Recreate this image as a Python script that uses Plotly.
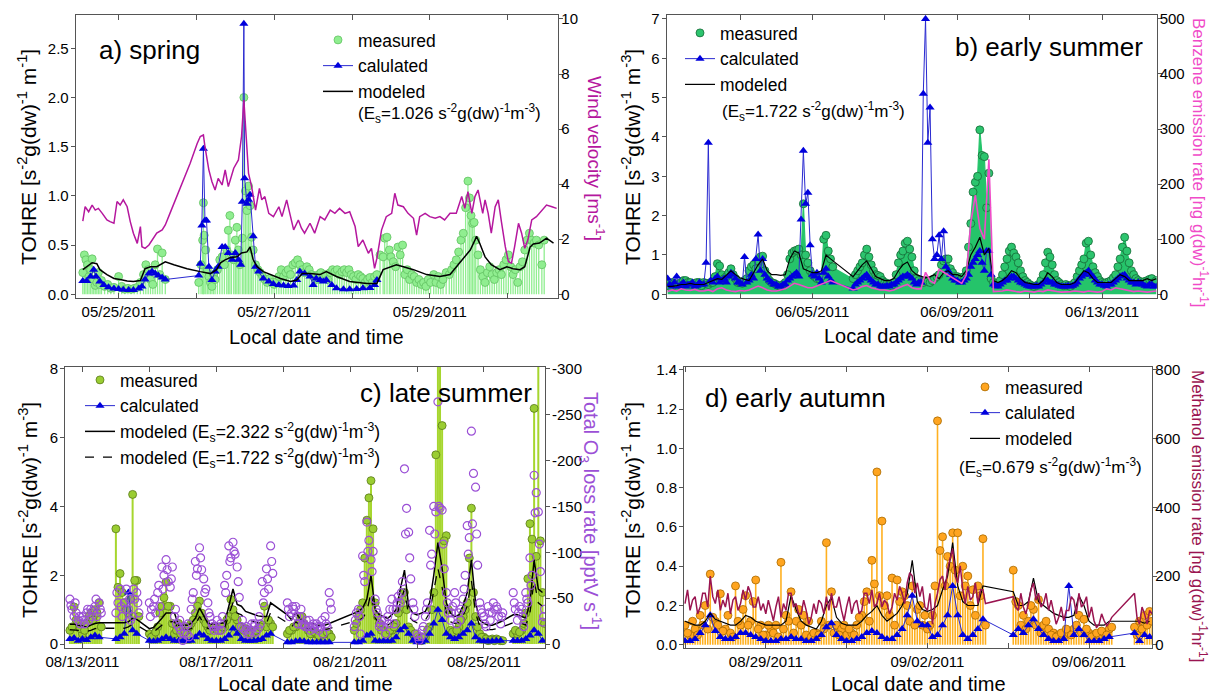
import pandas as pd
import plotly.graph_objects as go

FONT = "Liberation Sans, Arial, Helvetica, sans-serif"
N = None

# ======================= Panel a) spring =======================
A_BASE = "2011-05-25"
a_wind_day = [-0.46, -0.43, -0.385, -0.34, -0.30, -0.26, -0.21, -0.15, -0.11, -0.06, -0.02, 0.02, 0.06, 0.11,
              0.15, 0.19, 0.24, 0.28, 0.30, 0.34, 0.39, 0.43, 0.49, 0.56, 0.60, 0.66, 0.75, 0.84, 0.92, 1.01,
              1.05, 1.09, 1.11, 1.16, 1.20, 1.24, 1.28, 1.33, 1.37, 1.41, 1.48, 1.54, 1.58, 1.61, 1.63, 1.67,
              1.71, 1.76, 1.81, 1.84, 1.88, 1.93, 1.99, 2.06, 2.10, 2.16, 2.21, 2.25, 2.31, 2.35, 2.39, 2.46,
              2.52, 2.59, 2.65, 2.72, 2.78, 2.84, 2.91, 2.97, 3.04, 3.08, 3.14, 3.21, 3.25, 3.29, 3.32, 3.38,
              3.44, 3.51, 3.55, 3.59, 3.66, 3.72, 3.79, 3.83, 3.87, 3.94, 4.00, 4.07, 4.13, 4.19, 4.26, 4.34,
              4.41, 4.45, 4.49, 4.54, 4.58, 4.62, 4.68, 4.71, 4.75, 4.79, 4.84, 4.88, 4.92, 4.97, 5.01, 5.05,
              5.09, 5.14, 5.18, 5.22, 5.26, 5.31, 5.37, 5.44, 5.50, 5.57, 5.63]
a_wind = [2.66, 3.18, 3.00, 3.24, 3.06, 3.12, 2.94, 2.70, 2.64, 2.58, 3.37, 3.24, 3.43, 3.18,
          2.64, 2.22, 1.85, 2.46, 1.73, 1.67, 1.79, 1.97, 2.22, 2.34, 2.52, 2.94, 3.55, 4.15, 4.76, 5.48,
          5.73, 5.79, 5.36, 4.52, 4.09, 3.79, 4.21, 3.97, 4.52, 3.91, 4.58, 4.88, 5.73, 7.06, 6.09, 4.39,
          3.91, 3.06, 3.85, 3.43, 3.55, 2.94, 2.82, 3.18, 2.82, 3.43, 2.82, 2.34, 2.70, 2.40, 2.22, 2.58,
          2.22, 2.82, 2.70, 3.06, 2.94, 3.12, 2.94, 3.00, 2.46, 1.73, 1.97, 1.49, 1.67, 0.94, 1.31, 2.34,
          2.82, 2.94, 3.67, 3.24, 3.18, 2.94, 2.76, 2.15, 2.82, 2.94, 2.82, 2.76, 2.82, 2.70, 2.94, 2.94,
          3.55, 3.12, 3.73, 2.94, 3.55, 3.79, 2.94, 3.43, 2.94, 2.22, 3.18, 3.43, 2.64, 1.73, 1.19, 1.13,
          1.73, 2.58, 2.22, 1.67, 1.97, 2.70, 2.82, 3.06, 3.24, 3.18, 3.12]

a_calc_day = [-0.46, -0.41, -0.36, -0.32, -0.29, -0.24, -0.19, -0.13, -0.06, 0.0, 0.06, 0.13, 0.19, 0.26, 0.30,
              0.34, 0.39, 0.43, 0.47, 0.51, 0.56, 0.60, 1.03, 1.05, 1.07, 1.09, 1.11, 1.13, 1.16, 1.20, 1.24,
              1.28, 1.33, 1.37, 1.41, 1.46, 1.50, 1.54, 1.57, 1.59, 1.61, 1.62, 1.65, 1.67, 1.69, 1.73, 1.76,
              1.80, 1.86, 1.93, 1.99, 2.06, 2.12, 2.18, 2.25, 2.29, 2.33, 2.39, 2.46, 2.50, 2.54, 2.59, 2.63,
              2.67, 2.74, 2.80, 2.89, 2.97, 3.06, 3.14, 3.23, 3.29, 3.32]
a_calc = [0.135, 0.135, 0.18, 0.25, 0.18, 0.13, 0.095, 0.07, 0.058, 0.054, 0.047, 0.044, 0.044, 0.058, 0.078,
          0.15, 0.21, 0.23, 0.21, 0.19, 0.17, 0.15, 0.19, 0.31, 0.70, 1.48, 0.75, 0.75, 0.28, 0.145, 0.23,
          0.28, 0.48, 0.48, 0.42, 0.35, 0.42, 0.35, 0.30, 0.94, 2.75, 1.18, 0.92, 0.96, 1.01, 0.59, 0.28,
          0.23, 0.16, 0.13, 0.105, 0.095, 0.088, 0.085, 0.088, 0.145, 0.23, 0.21, 0.18, 0.095, 0.16, 0.145, 0.13,
          0.145, 0.095, 0.061, 0.051, 0.051, 0.054, 0.061, 0.064, 0.095, 0.145]

a_meas_day = [-0.46, -0.44, -0.42, -0.40, -0.38, -0.36, -0.34, -0.32, -0.30, -0.28, -0.26, -0.24, -0.22, -0.18,
              -0.14, -0.10, -0.06, 0.0, 0.04, 0.08, 0.12, 0.16, 0.20, 0.24, 0.28, 0.32, 0.35, 0.38, 0.41, 0.44,
              0.47, 0.50, 0.53, 0.56, 0.60,
              1.03, 1.06, 1.08, 1.09, 1.10, 1.12, 1.14, 1.16, 1.18, 1.20, 1.22, 1.24, 1.27, 1.30, 1.33, 1.36,
              1.39, 1.41, 1.43, 1.45, 1.48, 1.50, 1.52, 1.54, 1.56, 1.59, 1.61, 1.63, 1.65, 1.67, 1.69, 1.71,
              1.73, 1.76, 1.79, 1.82, 1.85, 1.88, 1.91, 1.94, 1.97, 2.00, 2.03, 2.06, 2.09, 2.12, 2.15, 2.18,
              2.21, 2.24, 2.27, 2.30, 2.33, 2.36, 2.39, 2.42, 2.45, 2.48, 2.51, 2.54, 2.57, 2.60, 2.63, 2.66,
              2.69, 2.72, 2.75, 2.78, 2.81, 2.84, 2.87, 2.90, 2.93, 2.96, 2.99, 3.02, 3.05, 3.08, 3.11, 3.14,
              3.17, 3.20, 3.23, 3.26, 3.29, 3.32, 3.36, 3.40, 3.42, 3.45, 3.48, 3.50, 3.53, 3.56, 3.59, 3.62,
              3.65, 3.68, 3.71, 3.74, 3.77, 3.80, 3.83, 3.86, 3.89, 3.92, 3.95, 3.98, 4.01, 4.05, 4.08, 4.11,
              4.14, 4.17, 4.21, 4.25, 4.28, 4.31, 4.34, 4.37, 4.40, 4.43, 4.46, 4.49, 4.51, 4.53, 4.55, 4.57,
              4.59, 4.62, 4.65, 4.68, 4.71, 4.74, 4.77, 4.80, 4.83, 4.86, 4.89, 4.92, 4.95, 4.98, 5.01, 5.04,
              5.07, 5.10, 5.13, 5.16, 5.19, 5.22, 5.25, 5.28, 5.31, 5.34, 5.37, 5.40, 5.44, 5.47]
a_meas = [0.22, 0.40, 0.35, 0.30, 0.18, 0.25, 0.36, 0.15, 0.09, 0.12, 0.22, 0.10, 0.14, 0.08,
          0.10, 0.06, 0.07, 0.18, 0.08, 0.05, 0.06, 0.05, 0.06, 0.07, 0.12, 0.20, 0.30, 0.25, 0.15, 0.10,
          0.30, 0.46, 0.20, 0.42, 0.15,
          0.12, 0.30, 0.55, 0.93, 0.60, 0.45, 0.25, 0.18, 0.12, 0.08, 0.20, 0.15, 0.25, 0.35, 0.38, 0.30,
          0.45, 0.65, 0.80, 0.40, 0.35, 0.55, 0.68, 0.45, 0.30, 0.57, 2.00, 1.05, 0.85, 1.10, 0.90, 0.58,
          0.45, 0.30, 0.25, 0.22, 0.18, 0.15, 0.12, 0.16, 0.12, 0.10, 0.13, 0.18, 0.25, 0.18, 0.22, 0.25,
          0.20, 0.30, 0.32, 0.35, 0.30, 0.25, 0.22, 0.28, 0.25, 0.20, 0.18, 0.15, 0.20, 0.22, 0.18, 0.20,
          0.15, 0.22, 0.25, 0.23, 0.25, 0.20, 0.23, 0.25, 0.22, 0.25, 0.20, 0.18, 0.15, 0.20, 0.18, 0.16,
          0.12, 0.15, 0.17, 0.12, 0.18, 0.20, 0.40, 0.38, 0.57, 0.58, 0.45, 0.38, 0.33, 0.28, 0.48, 0.40,
          0.50, 0.20, 0.25, 0.15, 0.20, 0.18, 0.12, 0.15, 0.10, 0.12, 0.08, 0.15, 0.12, 0.20, 0.12, 0.18,
          0.10, 0.15, 0.22, 0.20, 0.25, 0.30, 0.35, 0.43, 0.55, 0.62, 0.88, 1.15, 0.98, 0.80, 0.72, 0.73,
          0.55, 0.40, 0.25, 0.18, 0.12, 0.22, 0.28, 0.20, 0.15, 0.22, 0.25, 0.20, 0.30, 0.35, 0.40, 0.28,
          0.20, 0.25, 0.12, 0.28, 0.33, 0.45, 0.55, 0.62, 0.55, 0.52, 0.55, 0.50, 0.30, 0.55]

a_model_day = [-0.46, -0.41, -0.34, -0.28, -0.24, -0.15, -0.06, 0.02, 0.11, 0.19, 0.28, 0.34, 0.41, 0.49, 0.54,
               0.60, 0.71, 0.88, 1.05, 1.18, 1.26, 1.31, 1.37, 1.43, 1.52, 1.58, 1.65, 1.69, 1.73, 1.78, 1.86,
               1.95, 2.08, 2.21, 2.29, 2.36, 2.46, 2.59, 2.67, 2.80, 2.97, 3.19, 3.32, 3.40, 3.49, 3.57, 3.66,
               3.79, 3.96, 4.13, 4.26, 4.39, 4.52, 4.58, 4.60, 4.64, 4.71, 4.79, 4.90, 4.99, 5.07, 5.16, 5.22,
               5.29, 5.33, 5.41, 5.50, 5.59]
a_model = [0.25, 0.28, 0.32, 0.31, 0.25, 0.20, 0.16, 0.15, 0.135, 0.13, 0.14, 0.26, 0.28, 0.28, 0.30,
           0.33, 0.30, 0.26, 0.23, 0.21, 0.25, 0.32, 0.35, 0.37, 0.38, 0.42, 0.43, 0.48, 0.35, 0.28, 0.23,
           0.20, 0.16, 0.13, 0.145, 0.21, 0.21, 0.20, 0.23, 0.18, 0.13, 0.11, 0.11, 0.25, 0.28, 0.30, 0.28,
           0.25, 0.20, 0.18, 0.20, 0.32, 0.45, 0.55, 0.59, 0.52, 0.38, 0.30, 0.25, 0.28, 0.26, 0.25, 0.28,
           0.48, 0.51, 0.52, 0.57, 0.52]

# ======================= Panel b) early summer (3-hourly, plus samples at +1.5 h) =======================
B_START, B_END = "2011-06-01 00:00", "2011-06-14 12:00"
b_meas = [0.25, 0.30, 0.20, 0.30, 0.35, 0.30, 0.28, 0.30,
          0.30, 0.25, 0.30, 0.78, 0.50, 0.45, 0.65, 0.40,
          0.30, 0.35, 0.60, 0.75, 0.85, 0.97, 0.45, 0.30,
          0.25, 0.20, 0.30, 0.90, 1.10, 1.15, 2.30, 0.80,
          0.50, 0.40, 0.45, 1.50, 0.90, N, N, N,
          N, 0.40, 0.60, 0.80, 1.15, 0.75, 0.50, 0.45,
          0.30, 0.25, 0.30, 0.80, 1.10, 1.35, 0.95, 0.40,
          0.30, 0.35, 0.30, 0.40, 0.50, 0.85, 0.90, 0.55,
          0.45, 0.40, 0.60, 1.80, 2.85, 4.18, 3.50, 3.08,
          0.30, 0.25, 0.50, 0.90, 1.20, 0.95, 0.60, 0.35,
          0.25, 0.20, 0.25, 0.50, 1.07, 0.75, 0.35, 0.25,
          0.25, 0.20, 0.30, 0.60, 0.90, 1.35, 0.70, 0.45,
          0.30, 0.30, 0.35, 0.50, 0.90, 1.45, 0.80, 0.50,
          0.35, 0.30, 0.35, 0.40, 0.35]
b_meas_b = [0.20, 0.28, 0.25, 0.35, 0.30, 0.25, 0.30, 0.22,
            0.28, 0.30, 0.45, 0.72, 0.40, 0.55, 0.50, 0.30,
            0.28, 0.40, 0.70, 0.65, 0.95, 0.60, 0.35, 0.28,
            0.22, 0.25, 0.50, 1.05, 1.12, 1.00, 1.00, 0.60,
            0.45, 0.40, 1.40, 1.10, 0.70, N, N, N,
            N, 0.50, 0.70, 1.00, 0.95, 0.60, 0.48, 0.35,
            0.28, 0.22, 0.50, 1.00, 1.30, 1.15, 0.60, 0.35,
            0.30, 0.32, 0.35, 0.45, 0.75, 0.90, 0.65, 0.45,
            0.42, 0.45, 1.20, 2.60, 3.00, 3.53, 2.20, 0.40,
            0.28, 0.35, 0.70, 1.10, 1.05, 0.80, 0.45, 0.30,
            0.22, 0.22, 0.35, 0.80, 0.95, 0.50, 0.30, 0.22,
            0.22, 0.25, 0.45, 0.75, 1.30, 1.00, 0.55, 0.35,
            0.28, 0.32, 0.42, 0.70, 1.20, 1.10, 0.60, 0.40,
            0.32, 0.33, 0.38, 0.30, N]
b_calc = [0.40, 0.20, 0.45, 0.25, 0.20, 0.25, 0.20, 0.30,
          0.25, 3.85, 0.30, 0.45, 0.35, 0.30, 0.55, 0.40,
          0.30, 0.95, 0.35, 0.40, 1.52, 0.90, 0.40, 0.30,
          0.25, 0.20, 0.25, 0.40, 0.50, 0.45, 3.65, 2.58,
          0.50, 0.55, 0.30, 0.65, 0.35, N, N, N,
          N, 0.15, 0.30, 0.40, 0.50, 0.35, 0.25, 0.20,
          0.20, 0.20, 0.25, 0.35, 0.45, 0.50, 0.40, 0.25,
          0.30, 7.00, 4.75, 0.90, 1.50, 1.60, 0.60, 0.40,
          0.35, 0.30, 0.40, 0.70, 0.90, 1.10, 0.60, 1.10,
          0.25, 0.20, 0.30, 0.35, 0.45, 0.40, 0.30, 0.25,
          0.20, 0.20, 0.20, 0.30, 0.35, 0.30, 0.25, 0.20,
          0.20, 0.20, 0.25, 0.40, 0.50, 0.60, 0.45, 0.30,
          0.25, 0.20, 0.25, 0.35, 0.45, 0.50, 0.35, 0.30,
          0.30, 0.25, 0.20, 0.25, 0.20]
b_calc_b = [0.25, 0.30, 0.20, 0.30, 0.25, 0.30, 0.22, 0.25,
            0.80, 0.35, 0.40, 0.30, 0.40, 0.45, 0.50, 0.30,
            0.25, 0.30, 0.50, 0.90, 0.60, 0.50, 0.35, 0.25,
            0.20, 0.25, 0.35, 0.45, 0.55, 1.90, 2.30, 1.25,
            0.45, 0.40, 0.55, 0.45, 0.30, N, N, N,
            N, 0.25, 0.35, 0.45, 0.40, 0.30, 0.25, 0.20,
            0.22, 0.25, 0.30, 0.40, 0.45, 0.45, 0.30, 0.30,
            5.10, 3.85, 1.40, 1.00, 0.90, 0.70, 0.50, 0.35,
            0.30, 0.35, 0.50, 0.80, 1.00, 0.80, 1.10, 0.50,
            0.22, 0.25, 0.35, 0.40, 0.45, 0.35, 0.28, 0.22,
            0.20, 0.22, 0.25, 0.35, 0.30, 0.25, 0.22, 0.20,
            0.22, 0.22, 0.30, 0.45, 0.55, 0.50, 0.35, 0.25,
            0.22, 0.25, 0.30, 0.40, 0.48, 0.40, 0.30, 0.25,
            0.28, 0.22, 0.25, 0.20, N]
b_model = [0.20, 0.20, 0.22, 0.25, 0.25, 0.28, 0.25, 0.25,
           0.25, 0.30, 0.35, 0.40, 0.38, 0.50, 0.60, 0.50,
           0.42, 0.38, 0.35, 0.55, 0.75, 0.90, 0.60, 0.50,
           0.50, 0.48, 0.50, 0.90, 1.10, 1.05, 0.65, 0.60,
           0.55, 0.55, 0.60, 1.00, 0.90, N, N, N,
           N, 0.45, 0.60, 0.75, 0.85, 0.65, 0.45, 0.40,
           0.35, 0.35, 0.40, 0.60, 0.75, 0.82, 0.60, 0.50,
           0.45, 0.42, 0.45, 0.50, 0.40, 0.55, 0.60, 0.50,
           0.50, 0.45, 0.60, 1.00, 1.20, 1.45, 1.00, 1.17,
           0.35, 0.30, 0.35, 0.45, 0.60, 0.55, 0.40, 0.30,
           0.28, 0.25, 0.25, 0.35, 0.55, 0.45, 0.30, 0.25,
           0.25, 0.25, 0.30, 0.45, 0.60, 0.55, 0.40, 0.30,
           0.30, 0.30, 0.30, 0.40, 0.50, 0.45, 0.35, 0.35,
           0.35, 0.35, 0.40, 0.35, 0.40]
b_benzene = [5, 8, 6, 10, 8, 7, 9, 6,
             6, 8, 5, 10, 12, 8, 6, 5,
             7, 6, 8, 12, 15, 12, 8, 6,
             6, 8, 10, 15, 20, 18, 15, 12,
             12, 15, 18, 22, 25, N, N, N,
             N, 8, 10, 14, 16, 12, 10, 8,
             8, 6, 8, 12, 15, 18, 12, 10,
             10, 40, 25, 20, 45, 40, 35, 30,
             25, 20, 35, 130, 180, 120, 100, 245,
             5, 5, 6, 8, 6, 5, 4, 6,
             5, 4, 6, 5, 8, 6, 5, 4,
             4, 5, 6, 5, 4, 6, 5, 4,
             5, 10, 8, 12, 10, 8, 6, 5,
             6, 5, 4, 5, 6]

# ======================= Panel c) late summer (3-hourly) =======================
C_START, C_END = "2011-08-12 12:00", "2011-08-26 18:00"
c_meas = [N, 0.40, 1.08, 0.60,
          0.30, 0.60, 0.90, 1.00, 1.20, N, N, N,
          3.35, 2.05, 1.20, 0.90, 4.35, 1.85, N, N,
          0.30, 0.25, 0.50, 1.10, 1.80, 1.10, 0.30, 0.60,
          0.50, 0.40, 0.60, 0.90, 1.25, 0.70, 0.50, 0.45,
          0.50, 0.40, 0.50, 0.80, 1.00, 0.70, 0.50, 0.45,
          0.40, 0.35, 0.45, 0.55, 0.50, 0.60, N, N,
          N, 0.30, 0.40, 0.50, 0.70, 0.60, 0.40, 0.30,
          0.30, 0.25, 0.30, 0.30, N, N, N, N,
          N, 0.40, 0.80, 1.20, 3.60, 4.75, 1.20, 0.60,
          0.40, 0.30, 0.40, 0.60, 1.00, 1.50, 0.50, 0.30,
          0.20, 0.10, 0.20, 0.50, 1.50, 9.50, 6.35, 3.15,
          0.40, 0.30, 0.50, 0.80, 1.20, 3.95, 0.80, 0.30,
          0.20, 0.10, 0.15, 0.15, 0.10, N, N, 0.30,
          0.30, 0.40, 0.90, 3.50, 6.85, 9.50, 1.50]
c_meas_b = [N, 0.50, 0.70, 0.45,
            0.40, 0.80, 0.70, 0.90, 0.50, N, N, N,
            1.65, 1.50, 1.00, 1.30, 1.85, 0.80, N, N,
            0.20, 0.35, 0.90, 1.35, 1.10, 0.60, 0.40, 0.30,
            0.35, 0.50, 0.70, 1.10, 0.90, 0.60, 0.40, 0.50,
            0.40, 0.50, 0.70, 1.30, 0.80, 0.50, 0.40, 0.35,
            0.30, 0.40, 0.50, 1.10, 0.70, 0.50, N, N,
            N, 0.40, 0.50, 0.60, 0.80, 0.50, 0.30, 0.35,
            0.25, 0.30, 0.35, 0.20, N, N, N, N,
            N, 0.60, 1.00, 2.50, 4.25, 3.35, 0.80, 0.40,
            0.30, 0.40, 0.50, 0.90, 1.30, 1.00, 0.40, 0.30,
            0.15, 0.20, 0.40, 1.00, 5.50, 9.50, 3.00, 1.00,
            0.35, 0.40, 0.70, 1.00, 2.50, 1.50, 0.50, 0.20,
            0.15, 0.12, 0.10, 0.12, 0.10, N, N, 0.40,
            0.35, 0.60, 1.90, 3.05, 2.55, 3.00, 0.60]
c_calc = [N, 0.15, 0.18, 0.10,
          0.15, 0.12, 0.20, 0.25, 0.20, N, N, N,
          0.15, 0.20, 0.30, 1.50, 0.40, 0.30, N, N,
          0.10, 0.08, 0.10, 0.15, 0.20, 0.15, 0.10, 0.10,
          0.10, 0.08, 0.10, 0.20, 0.30, 0.25, 0.15, 0.10,
          0.10, 0.10, 0.15, 0.25, 0.45, 0.30, 0.15, 0.10,
          0.10, 0.10, 0.12, 0.15, 0.25, 0.30, N, N,
          N, 0.05, 0.05, 0.08, 0.10, 0.08, 0.05, 0.05,
          0.05, 0.05, 0.05, 0.05, N, N, N, N,
          N, 0.05, 0.05, 0.10, 0.25, 0.30, 0.10, 0.08,
          0.10, 0.08, 0.10, 0.20, 0.40, 0.50, 0.30, 0.10,
          0.05, 0.05, 0.10, 0.30, 0.60, 1.00, 0.70, 0.30,
          0.20, 0.15, 0.20, 0.30, 0.40, 0.60, 0.20, 0.10,
          0.08, 0.08, 0.08, 0.10, 0.10, N, N, 0.10,
          0.10, 0.10, 0.15, 0.25, 0.40, 0.30, 0.10]
c_model = [N, 0.58, 0.58, 0.55,
           0.52, 0.50, 0.55, 0.60, 0.62, N, N, N,
           0.62, 0.62, 0.62, 0.65, 0.75, 0.72, N, N,
           0.45, 0.48, 0.60, 0.75, 0.90, 0.90, 0.90, 0.55,
           0.55, 0.55, 0.60, 0.75, 1.05, 0.80, 0.60, 0.58,
           0.60, 0.60, 0.62, 1.10, 1.60, 1.15, 1.10, 0.95,
           0.90, 0.85, 0.82, 0.80, 0.80, 1.20, N, N,
           N, 0.85, 0.70, 0.90, 0.75, 0.65, 0.60, 0.60,
           0.55, 0.55, 0.55, 0.60, N, N, N, N,
           N, 0.90, 0.95, 1.05, 1.30, 2.00, 1.00, 0.85,
           0.80, 0.75, 0.85, 1.00, 1.60, 2.15, 1.10, 0.90,
           0.85, 0.90, 0.95, 1.20, 2.00, 2.95, 2.20, 1.20,
           0.90, 0.80, 0.85, 1.10, 1.50, 2.45, 1.20, 0.70,
           0.60, 0.55, 0.55, 0.60, 0.65, N, N, 0.85,
           0.85, 0.80, 0.75, 1.20, 2.45, 1.60, 1.50]
c_model_low = [N, 0.42, 0.42, 0.40,
               0.38, 0.37, 0.40, 0.45, 0.46, N, N, N,
               0.46, 0.46, 0.46, 0.50, 0.58, 0.55, N, N,
               0.33, 0.35, 0.45, 0.55, 0.65, 0.65, 0.65, 0.42,
               0.42, 0.42, 0.45, 0.55, 0.80, 0.60, 0.45, 0.44,
               0.45, 0.45, 0.47, 0.85, 1.20, 0.90, 0.85, 0.72,
               0.68, 0.64, 0.62, 0.60, 0.60, 0.92, N, N,
               N, 0.62, 0.50, 0.65, 0.55, 0.48, 0.45, 0.45,
               0.42, 0.42, 0.42, 0.45, N, N, N, N,
               N, 0.65, 0.70, 0.75, 0.95, 1.50, 0.75, 0.62,
               0.60, 0.55, 0.65, 0.75, 1.20, 1.60, 0.82, 0.68,
               0.62, 0.66, 0.70, 0.90, 1.50, 2.20, 1.65, 0.90,
               0.65, 0.60, 0.62, 0.82, 1.10, 1.85, 0.90, 0.52,
               0.45, 0.42, 0.42, 0.45, 0.48, N, N, 0.62,
               0.62, 0.60, 0.55, 0.90, 1.85, 1.20, 1.10]
# O3 loss rate [pptV/s], three samples per 3-h slot (+0 h, +0.75 h, +1.5 h)
c_o3_a = [N, -49, -30, -26,
          -30, -34, -38, -41, -45, N, N, N,
          -34, -60, -45, -38, -30, -56, N, N,
          -45, -41, -56, -84, -92, -62, -30, -19,
          -4, -11, -38, -90, -105, -71, -45, -22,
          -19, -22, -64, -107, -111, -84, -19, -15,
          -11, -19, -17, -68, -82, -107, N, N,
          N, -45, -34, -41, -30, -22, -19, -19,
          -22, -19, -30, -56, N, N, N, N,
          N, -19, -38, -96, -133, -92, -49, -19,
          -19, -30, -49, -38, -45, -191, -122, -45,
          -11, -8, -30, -124, -150, -264, -146, -56,
          -26, -56, -34, -49, -129, -232, -171, -45,
          -30, -41, -34, -41, -22, N, N, -56,
          -26, -38, -56, -94, -184, -144, -24]
c_o3_c = [N, -42, -45, -30,
          -26, -38, -30, -49, -38, N, N, N,
          -56, -41, -38, -49, -60, -45, N, N,
          -30, -49, -64, -60, -81, -71, -38, -26,
          -11, -22, -49, -75, -94, -56, -34, -19,
          -26, -15, -56, -90, -101, -68, -26, -19,
          -15, -22, -30, -45, -71, -90, N, N,
          N, -38, -41, -30, -38, -19, -26, -22,
          -19, -26, -22, -45, N, N, N, N,
          N, -26, -30, -75, -101, -79, -38, -22,
          -26, -22, -38, -45, -56, -120, -94, -38,
          -8, -15, -38, -86, -120, -150, -109, -45,
          -34, -45, -26, -60, -98, -131, -120, -38,
          -22, -34, -45, -38, -30, N, N, -45,
          -34, -30, -49, -64, -143, -109, -30]
c_o3_b = [N, -38, -34, -22,
          -22, -26, -36, -30, -34, N, N, N,
          -45, -30, -60, -26, -49, -34, N, N,
          -38, -34, -41, -75, -68, -84, -22, -15,
          -19, -8, -56, -82, -81, -60, -30, -15,
          -15, -30, -75, -94, -98, -51, -17, -11,
          -22, -13, -22, -56, -60, -77, N, N,
          N, -30, -38, -22, -21, -26, -15, -17,
          -15, -11, -19, -38, N, N, N, N,
          N, -34, -11, -68, -113, -101, -34, -26,
          -11, -38, -22, -52, -68, -148, -71, -30,
          -4, -19, -45, -98, -144, -148, -82, -34,
          -41, -22, -38, -75, -116, -186, -86, -34,
          -19, -26, -38, -30, -34, N, N, -38,
          -41, -19, -45, -75, -165, -79, -38]
c_o3_ticks = [0, -50, -100, -150, -200, -250, -300]
c_o3_ticktext = ["0", "-50", "-100", "-150", "-200", "-250", "-300"]

# ======================= Panel d) early autumn (3-hourly + 1.5 h samples) =======================
D_START, D_END = "2011-08-27 00:00", "2011-09-07 12:00"
d_meas = [0.10, 0.05, 0.08, 0.15, 0.20, 0.36, 0.12, 0.26,
          0.08, 0.06, 0.30, 0.10, 0.25, 0.12, 0.33, 0.10,
          0.05, 0.08, 0.10, 0.42, 0.15, 0.27, 0.12, 0.10,
          0.05, 0.04, 0.06, 0.12, 0.52, 0.27, 0.10, 0.08,
          0.05, 0.06, 0.10, 0.15, 0.27, 0.43, 0.88, 0.63,
          0.25, 0.34, 0.33, 0.27, 0.20, 0.30, 0.18, 0.10,
          0.08, 0.15, 1.14, 0.55, 0.45, 0.57, 0.57, 0.40,
          0.35, 0.28, 0.30, 0.54, N, N, N, N,
          N, 0.38, 0.20, 0.15, 0.12, 0.18, 0.23, 0.10,
          0.08, 0.06, 0.05, 0.04, 0.06, 0.08, 0.15, 0.13,
          0.06, 0.05, 0.05, 0.06, 0.08, N, N, N,
          N, 0.09, 0.12, 0.15, 0.17]
d_meas_b = [0.06, 0.12, 0.05, 0.10, 0.08, 0.14, 0.10, 0.07,
            0.15, 0.04, 0.12, 0.18, 0.10, 0.22, 0.08, 0.05,
            0.10, 0.06, 0.04, 0.08, 0.12, 0.06, 0.18, 0.15,
            0.12, 0.06, 0.05, 0.08, 0.10, 0.06, 0.05, 0.10,
            0.08, 0.05, 0.14, 0.22, 0.12, 0.31, 0.25, 0.20,
            0.15, 0.10, 0.22, 0.25, 0.12, 0.10, 0.20, 0.15,
            0.10, 0.30, 0.48, 0.30, 0.40, 0.38, 0.25, 0.30,
            0.20, 0.15, 0.25, 0.10, N, N, N, N,
            N, 0.22, 0.10, 0.08, 0.20, 0.10, 0.06, 0.12,
            0.05, 0.04, 0.06, 0.08, 0.05, 0.10, 0.06, 0.08,
            0.04, 0.06, 0.07, 0.05, 0.09, N, N, N,
            N, 0.05, 0.08, 0.10, 0.12]
d_calc = [0.02, 0.02, 0.03, 0.06, 0.10, 0.15, 0.07, 0.04,
          0.03, 0.03, 0.04, 0.06, 0.06, 0.05, 0.04, 0.03,
          0.02, 0.02, 0.02, 0.03, 0.03, 0.04, 0.03, 0.03,
          0.02, 0.02, 0.03, 0.05, 0.09, 0.11, 0.05, 0.03,
          0.02, 0.02, 0.03, 0.04, 0.06, 0.07, 0.06, 0.04,
          0.03, 0.03, 0.05, 0.08, 0.15, 0.25, 0.12, 0.10,
          0.10, 0.04, 0.05, 0.10, 0.15, 0.30, 0.15, 0.05,
          0.03, 0.05, 0.08, 0.13, N, N, N, N,
          N, 0.05, 0.08, 0.06, 0.10, 0.13, 0.08, 0.05,
          0.03, 0.02, 0.02, 0.03, 0.30, 0.05, 0.08, 0.05,
          0.02, 0.02, 0.02, 0.03, 0.04, N, N, N,
          N, 0.06, 0.02, 0.05, 0.04]
d_model = [0.12, 0.11, 0.10, 0.10, 0.12, 0.16, 0.13, 0.12,
           0.11, 0.10, 0.10, 0.12, 0.15, 0.14, 0.12, 0.11,
           0.10, 0.10, 0.10, 0.10, 0.12, 0.25, 0.18, 0.12,
           0.10, 0.09, 0.08, 0.12, 0.20, 0.24, 0.14, 0.11,
           0.10, 0.10, 0.10, 0.12, 0.15, 0.17, 0.20, 0.15,
           0.12, 0.14, 0.16, 0.20, 0.26, 0.43, 0.22, 0.18,
           0.17, 0.18, 0.20, 0.28, 0.35, 0.52, 0.30, 0.22,
           0.20, 0.20, 0.20, 0.30, N, N, N, N,
           N, 0.27, 0.20, 0.20, 0.22, 0.34, 0.22, 0.20,
           0.18, 0.16, 0.15, 0.14, 0.14, 0.15, 0.25, 0.20,
           0.12, 0.10, 0.10, 0.10, 0.12, N, N, N,
           N, 0.12, 0.12, 0.11, 0.12]
d_methanol = [120, 100, 140, 110, 150, 200, 120, 100,
              110, 90, 140, 120, 130, 150, 110, 100,
              90, 100, 110, 80, 100, 150, 120, 90,
              100, 80, 90, 120, 140, 150, 110, 100,
              110, 90, 130, 100, 150, 160, 120, 110,
              120, 110, 130, 150, 180, 200, 180, 170,
              100, 60, 150, 200, 220, 280, 180, 160,
              170, 140, 120, 160, N, N, N, N,
              N, 140, 100, 110, 120, 180, 150, 120,
              100, 90, 80, 70, 100, 130, 150, 120,
              80, 70, 60, 70, 65, N, N, N,
              N, 150, 60, 90, 100]
d_methanol_b = [160, 130, 90, 150, 110, 140, 160, 130,
                150, 130, 100, 160, 170, 110, 140, 120,
                130, 70, 140, 120, 150, 110, 90, 130,
                60, 120, 130, 90, 100, 110, 140, 70,
                140, 120, 90, 150, 120, 110, 150, 130,
                90, 150, 170, 120, 210, 150, 140, 110,
                150, 120, 190, 160, 250, 200, 230, 120,
                130, 180, 160, 120, N, N, N, N,
                N, 110, 150, 90, 160, 130, 110, 150,
                130, 60, 110, 100, 140, 90, 110, 140,
                110, 50, 90, 55, 80, N, N, N,
                N, 80, 110, 60, 90]

# ---- tick labels (labelled ticks) ----
a_tickvals = ["2011-05-25", "2011-05-27", "2011-05-29"]
a_ticktext = ["05/25/2011", "05/27/2011", "05/29/2011"]
b_tickvals = ["2011-06-05", "2011-06-09", "2011-06-13"]
b_ticktext = ["06/05/2011", "06/09/2011", "06/13/2011"]
c_tickvals = ["2011-08-13", "2011-08-17", "2011-08-21", "2011-08-25"]
c_ticktext = ["08/13/2011", "08/17/2011", "08/21/2011", "08/25/2011"]
d_tickvals = ["2011-08-29", "2011-09-02", "2011-09-06"]
d_ticktext = ["08/29/2011", "09/02/2011", "09/06/2011"]

# ======================= build =======================
def days_to_time(base, days):
    b = pd.Timestamp(base)
    return [b + pd.Timedelta(days=d) for d in days]

def grid(start, end):
    return list(pd.date_range(start, end, freq="3h"))

def shift(times, hours):
    return [t + pd.Timedelta(hours=hours) for t in times]

def drop(vals):
    return [0 if v is None else v for v in vals]

def interleave(t1, v1, t2, v2):
    xs, ys = [], []
    for a, b, c, d in zip(t1, v1, t2, v2):
        xs += [a, c]
        ys += [b, d]
    return xs, ys

BLUE = "#0000DD"
BLUE_LINE = "#2A2AD0"

fig = go.Figure()

# ---- panel a ----
fig.add_trace(go.Scatter(x=days_to_time(A_BASE, a_meas_day), y=a_meas, mode="markers", name="measured",
                         legend="legend",
                         marker=dict(symbol="circle", size=8, color="#90EE90", line=dict(color="#62C262", width=0.8)),
                         error_y=dict(type="data", symmetric=False, array=[0] * len(a_meas), arrayminus=drop(a_meas),
                                      width=0, thickness=1.3, color="#90EE90"),
                         xaxis="x", yaxis="y"))
fig.add_trace(go.Scatter(x=days_to_time(A_BASE, a_calc_day), y=a_calc, mode="lines+markers", name="calulated",
                         legend="legend", line=dict(color=BLUE_LINE, width=1),
                         marker=dict(symbol="triangle-up", size=8, color=BLUE),
                         xaxis="x", yaxis="y"))
fig.add_trace(go.Scatter(x=days_to_time(A_BASE, a_model_day), y=a_model, mode="lines", name="modeled",
                         legend="legend", line=dict(color="black", width=1.5), xaxis="x", yaxis="y"))
fig.add_trace(go.Scatter(x=days_to_time(A_BASE, a_wind_day), y=a_wind, mode="lines", showlegend=False,
                         line=dict(color="#B5179E", width=1.5), xaxis="x", yaxis="y5"))

# ---- panel b ----
tb = grid(B_START, B_END)
tb_b = shift(tb, 1.5)
bm_x, bm_y = interleave(tb, b_meas, tb_b, b_meas_b)
bc_x, bc_y = interleave(tb, b_calc, tb_b, b_calc_b)
fig.add_trace(go.Scatter(x=bm_x, y=bm_y, mode="lines", showlegend=False, fill="tozeroy",
                         fillcolor="#25C46A", line=dict(color="#25C46A", width=1.2),
                         xaxis="x2", yaxis="y2"))
fig.add_trace(go.Scatter(x=bm_x, y=bm_y, mode="markers", name="measured", legend="legend2",
                         marker=dict(symbol="circle", size=8, color="#2CC46E", line=dict(color="#176B37", width=0.8)),
                         xaxis="x2", yaxis="y2"))
fig.add_trace(go.Scatter(x=bc_x, y=bc_y, mode="lines+markers", name="calculated", legend="legend2",
                         connectgaps=True, line=dict(color=BLUE_LINE, width=1),
                         marker=dict(symbol="triangle-up", size=8, color=BLUE), xaxis="x2", yaxis="y2"))
fig.add_trace(go.Scatter(x=tb, y=b_model, mode="lines", name="modeled", legend="legend2", connectgaps=True,
                         line=dict(color="black", width=1.2), xaxis="x2", yaxis="y2"))
fig.add_trace(go.Scatter(x=tb, y=b_benzene, mode="lines", showlegend=False, connectgaps=True,
                         line=dict(color="#F04BC8", width=1.6), xaxis="x2", yaxis="y6"))

# ---- panel c ----
tc = grid(C_START, C_END)
tc_b = shift(tc, 1.5)
fig.add_trace(go.Scatter(x=tc + shift(tc, 0.75) + tc_b, y=c_o3_a + c_o3_c + c_o3_b, mode="markers",
                         showlegend=False,
                         marker=dict(symbol="circle-open", size=8, color="#9B50D6", line=dict(width=1.2)),
                         xaxis="x3", yaxis="y7"))
fig.add_trace(go.Scatter(x=tc + tc_b, y=c_meas + c_meas_b, mode="markers", name="measured", legend="legend3",
                         marker=dict(symbol="circle", size=8, color="#9ACD32", line=dict(color="#5B7A1A", width=0.8)),
                         error_y=dict(type="data", symmetric=False, array=[0] * (2 * len(c_meas)),
                                      arrayminus=drop(c_meas + c_meas_b),
                                      width=0, thickness=2, color="#A6D62E"),
                         xaxis="x3", yaxis="y3"))
fig.add_trace(go.Scatter(x=tc, y=c_calc, mode="lines+markers", name="calculated", legend="legend3",
                         connectgaps=True, line=dict(color=BLUE_LINE, width=1),
                         marker=dict(symbol="triangle-up", size=8, color=BLUE), xaxis="x3", yaxis="y3"))
fig.add_trace(go.Scatter(x=tc, y=c_model, mode="lines", legend="legend3", connectgaps=True,
                         name="modeled (E<sub>s</sub>=2.322 s<sup>-2</sup>g(dw)<sup>-1</sup>m<sup>-3</sup>)",
                         line=dict(color="black", width=1.5), xaxis="x3", yaxis="y3"))
fig.add_trace(go.Scatter(x=tc, y=c_model_low, mode="lines", legend="legend3", connectgaps=True,
                         name="modeled (E<sub>s</sub>=1.722 s<sup>-2</sup>g(dw)<sup>-1</sup>m<sup>-3</sup>)",
                         line=dict(color="black", width=1.3, dash="dash"), xaxis="x3", yaxis="y3"))

# ---- panel d ----
td = grid(D_START, D_END)
td_b = shift(td, 1.5)
fig.add_trace(go.Scatter(x=td + td_b, y=d_meas + d_meas_b, mode="markers", name="measured", legend="legend4",
                         marker=dict(symbol="circle", size=8, color="#FFA520", line=dict(color="#A86A00", width=0.8)),
                         error_y=dict(type="data", symmetric=False, array=[0] * (2 * len(d_meas)),
                                      arrayminus=drop(d_meas + d_meas_b),
                                      width=0, thickness=1.6, color="#FFB020"),
                         xaxis="x4", yaxis="y4"))
fig.add_trace(go.Scatter(x=td, y=d_calc, mode="lines+markers", name="calulated", legend="legend4",
                         connectgaps=True, line=dict(color=BLUE_LINE, width=1),
                         marker=dict(symbol="triangle-up", size=8, color=BLUE), xaxis="x4", yaxis="y4"))
fig.add_trace(go.Scatter(x=td, y=d_model, mode="lines", name="modeled", legend="legend4", connectgaps=True,
                         line=dict(color="black", width=1.2), xaxis="x4", yaxis="y4"))
meoh_x, meoh_y = interleave(td, d_methanol, td_b, d_methanol_b)
fig.add_trace(go.Scatter(x=meoh_x, y=meoh_y, mode="lines", showlegend=False, connectgaps=True,
                         line=dict(color="#9A1450", width=1.5), xaxis="x4", yaxis="y8"))

# ======================= layout =======================
W, H = 1211, 696
def px(x): return x / W
def py(y): return 1 - y / H

AXC = "#555555"
tickf = dict(family=FONT, size=15, color="black")
DAY_MS = 86400000

def xax(dom, anchor, rng, tv, tt, minor_step, minor0):
    return dict(domain=dom, anchor=anchor, type="date", range=rng, tickvals=tv, ticktext=tt,
                ticks="inside", ticklen=5, tickcolor=AXC, showline=True, linecolor=AXC, linewidth=1,
                mirror="ticks", showgrid=False, zeroline=False, tickfont=tickf, automargin=False,
                minor=dict(ticks="inside", ticklen=5, tickcolor=AXC, dtick=minor_step * DAY_MS,
                           tick0=minor0, showgrid=False))

def yax(dom, anchor, rng, dtick, fmt=None):
    d = dict(domain=dom, anchor=anchor, range=rng, dtick=dtick, tick0=0, ticks="outside", ticklen=4,
             tickcolor=AXC, showline=True, linecolor=AXC, linewidth=1, showgrid=False, zeroline=False,
             tickfont=tickf, automargin=False, ticklabelstandoff=-1)
    if fmt:
        d["tickformat"] = fmt
    return d

def yright(over, anchor, rng, dtick, tv=None, tt=None, standoff=-5):
    d = dict(overlaying=over, anchor=anchor, side="right", range=rng, dtick=dtick, tick0=0,
             ticks="outside", ticklen=4, tickcolor=AXC, showline=True, linecolor=AXC, linewidth=1,
             showgrid=False, zeroline=False, tickfont=tickf, automargin=False, ticklabelstandoff=standoff)
    if tv is not None:
        d.update(tickmode="array", tickvals=tv, ticktext=tt)
    return d

dom_ax = [px(75.7), px(558.3)]
dom_bx = [px(666.7), px(1156.7)]
dom_cx = [px(65), px(545)]
dom_dx = [px(684), px(1152.3)]
dom_top = [py(297.7), py(15)]
dom_bot = [py(647.5), py(366.5)]

layout = dict(
    width=W, height=H, margin=dict(l=0, r=0, t=0, b=0, pad=0, autoexpand=False),
    paper_bgcolor="white", plot_bgcolor="white", hovermode=False,
    font=dict(family=FONT, color="black"),
    xaxis=xax(dom_ax, "y", ["2011-05-24 10:46", "2011-05-30 15:38"], a_tickvals, a_ticktext, 1, "2011-05-25"),
    yaxis=yax(dom_top, "x", [-0.035, 2.838], 0.5, ".1f"),
    yaxis5=yright("y", "x", [-0.124, 10.145], 2),
    xaxis2=xax(dom_bx, "y2", ["2011-05-31 23:24", "2011-06-14 12:15"], b_tickvals, b_ticktext, 2, "2011-06-01"),
    yaxis2=yax(dom_top, "x2", [-0.086, 7.10], 1),
    yaxis6=yright("y2", "x2", [-6.1, 507], 100),
    xaxis3=xax(dom_cx, "y3", ["2011-08-12 11:30", "2011-08-26 19:48"], c_tickvals, c_ticktext, 2, "2011-08-13"),
    yaxis3=yax(dom_bot, "x3", [-0.099, 8.067], 2),
    yaxis7=yright("y3", "x3", [3.7, -302.5], 50, c_o3_ticks, c_o3_ticktext, standoff=-1),
    xaxis4=xax(dom_dx, "y4", ["2011-08-26 23:24", "2011-09-07 13:36"], d_tickvals, d_ticktext, 2, "2011-08-27"),
    yaxis4=yax(dom_bot, "x4", [-0.0137, 1.4168], 0.2, ".1f"),
    yaxis8=yright("y4", "x4", [-7.8, 809.6], 200),
)

leg = dict(xanchor="left", yanchor="top", bgcolor="rgba(0,0,0,0)",
           font=dict(family=FONT, size=17.5, color="black"), tracegroupgap=0, borderwidth=0)
layout["legend"] = dict(leg, x=px(318), y=py(22))
layout["legend2"] = dict(leg, x=px(680), y=py(15))
layout["legend3"] = dict(leg, x=px(80), y=py(362))
layout["legend4"] = dict(leg, x=px(965), y=py(369))

fig.update_layout(**layout)

es = "(E<sub>s</sub>={} s<sup>-2</sup>g(dw)<sup>-1</sup>m<sup>-3</sup>)"
ann = [
    # panel titles
    dict(x=px(149), y=py(50), text="a) spring", size=26),
    dict(x=px(1049), y=py(47), text="b) early summer", size=26),
    dict(x=px(446), y=py(393), text="c) late summer", size=26),
    dict(x=px(795), y=py(398), text="d) early autumn", size=26),
    # Es notes
    dict(x=px(450), y=py(114), text=es.format("1.026"), size=17),
    dict(x=px(813), y=py(111), text=es.format("1.722"), size=17),
    dict(x=px(1050), y=py(467), text=es.format("0.679"), size=17),
    # x titles
    dict(x=px(317), y=py(337), text="Local date and time", size=20),
    dict(x=px(911), y=py(336), text="Local date and time", size=20),
    dict(x=px(305), y=py(684), text="Local date and time", size=20),
    dict(x=px(918), y=py(684), text="Local date and time", size=20),
    # left y titles
    dict(x=px(27), y=py(157), text="TOHRE [s<sup>-2</sup>g(dw)<sup>-1</sup> m<sup>-1</sup>]", size=21, angle=-90),
    dict(x=px(631), y=py(157), text="TOHRE [s<sup>-2</sup>g(dw)<sup>-1</sup> m<sup>-3</sup>]", size=21, angle=-90),
    dict(x=px(28), y=py(510), text="TOHRE [s<sup>-2</sup>g(dw)<sup>-1</sup> m<sup>-3</sup>]", size=21, angle=-90),
    dict(x=px(631), y=py(510), text="TOHRE [s<sup>-2</sup>g(dw)<sup>-1</sup> m<sup>-3</sup>]", size=21, angle=-90),
    # right y titles
    dict(x=px(596), y=py(158), text="Wind velocity [ms<sup>-1</sup>]", size=19, angle=90, color="#B5179E"),
    dict(x=px(1200), y=py(163), text="Benzene emission rate [ng g(dw)<sup>-1</sup>hr<sup>-1</sup>]", size=17,
         angle=90, color="#F04BC8"),
    dict(x=px(591), y=py(511), text="Total O<sub>3</sub> loss rate [pptV s<sup>-1</sup>]", size=20, angle=90,
         color="#9B50D6"),
    dict(x=px(1199), y=py(516), text="Methanol emission rate [ng g(dw)<sup>-1</sup>hr<sup>-1</sup>]", size=17,
         angle=90, color="#9A1450"),
]
fig.update_layout(annotations=[
    dict(xref="paper", yref="paper", x=a["x"], y=a["y"], text=a["text"], showarrow=False,
         xanchor="center", yanchor="middle", textangle=a.get("angle", 0),
         font=dict(family=FONT, size=a["size"], color=a.get("color", "black")))
    for a in ann
])

fig.write_html("out.html", config={"displayModeBar": False, "responsive": False},
               post_script="document.body.style.margin='0px';document.body.style.overflow='hidden';")
